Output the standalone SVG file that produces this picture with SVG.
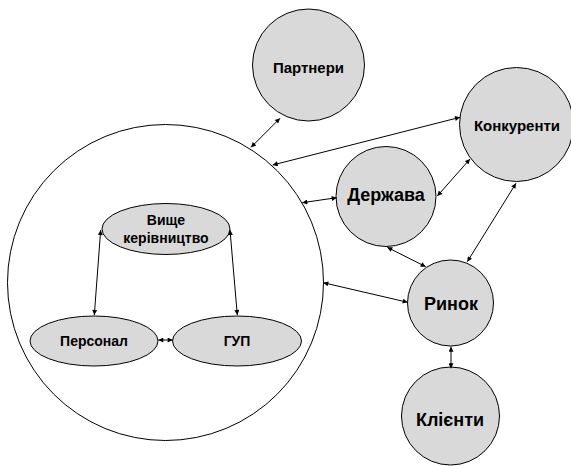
<svg xmlns="http://www.w3.org/2000/svg" width="571" height="466" viewBox="0 0 571 466">
<defs>
<style>
.n{fill:#d9d9d9;stroke:#000;stroke-width:1}
.big{fill:#fff;stroke:#000;stroke-width:1}
.t{font-family:"Liberation Sans",Arial,sans-serif;font-weight:bold;text-anchor:middle;fill:#000}
.i{font-size:14px}
.s{font-size:15px}
.l{font-size:18px}
.c line{stroke:#000;stroke-width:1;marker-start:url(#a);marker-end:url(#a)}
</style>
<marker id="a" viewBox="0 0 10 10" refX="10" refY="5" markerWidth="6" markerHeight="5" markerUnits="userSpaceOnUse" orient="auto-start-reverse">
<path d="M0,0 L10,5 L0,10 z" fill="#000"/>
</marker>
</defs>
<rect width="571" height="466" fill="#fff"/>
<g id="firm"><circle class="big" cx="165.5" cy="282.5" r="158"/></g>
<g id="vyshche"><ellipse class="n" cx="166" cy="229" rx="64" ry="25.5"/><text class="t i" x="166" y="225">Вище</text><text class="t i" x="166" y="243">керівництво</text></g>
<g id="personal"><ellipse class="n" cx="94" cy="341" rx="64" ry="25"/><text class="t i" x="94" y="346">Персонал</text></g>
<g id="gup"><ellipse class="n" cx="237" cy="341" rx="64.5" ry="25"/><text class="t i" x="237" y="346">ГУП</text></g>
<g id="partnery"><circle class="n" cx="308.5" cy="65" r="56"/><text class="t s" x="308.5" y="73">Партнери</text></g>
<g id="konkurenty"><circle class="n" cx="516.5" cy="124.5" r="57"/><text class="t s" x="517" y="130.5">Конкуренти</text></g>
<g id="derzhava"><circle class="n" cx="386" cy="196.5" r="50"/><text class="t l" x="386" y="201">Держава</text></g>
<g id="rynok"><circle class="n" cx="450.5" cy="303" r="43"/><text class="t l" x="451" y="310">Ринок</text></g>
<g id="klienty"><circle class="n" cx="450.5" cy="416" r="49"/><text class="t l" x="450" y="426">Клієнти</text></g>
<g class="c" id="connectors">
<line x1="251" y1="147.3" x2="280" y2="118.3"/>
<line x1="272.7" y1="165" x2="460" y2="117.3"/>
<line x1="302.3" y1="202.7" x2="336.7" y2="197.7"/>
<line x1="437.3" y1="196" x2="470" y2="159"/>
<line x1="467.3" y1="261.7" x2="516" y2="183.3"/>
<line x1="387.3" y1="247.3" x2="425.7" y2="266.7"/>
<line x1="323.3" y1="282.7" x2="407.7" y2="302.3"/>
<line x1="451" y1="346.7" x2="451" y2="368.3"/>
<line x1="100.7" y1="230" x2="94.3" y2="315"/>
<line x1="230" y1="230" x2="237.3" y2="315"/>
<line x1="158.3" y1="340" x2="172.7" y2="340"/>
</g>
</svg>
